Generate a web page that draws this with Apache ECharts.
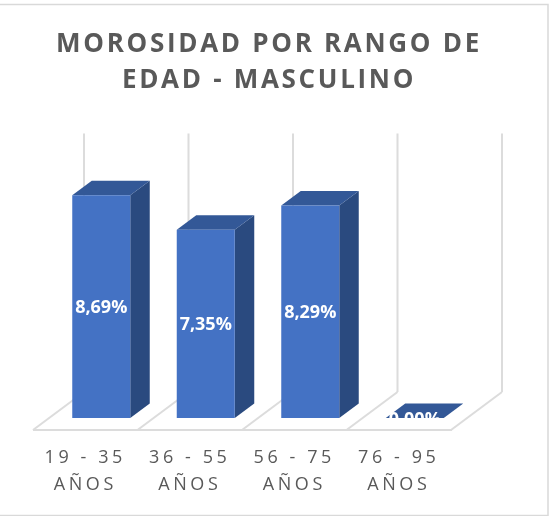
<!DOCTYPE html>
<html><head><meta charset="utf-8">
<script src="https://cdn.jsdelivr.net/npm/echarts@6/dist/echarts.min.js"></script>
<style>html,body{margin:0;padding:0;background:#fff}#c{width:557px;height:516px}</style>
</head><body><div id="c"></div>
<script>
// Tracked lettering as in the reference: spacing chosen by font at draw time
var origFill = CanvasRenderingContext2D.prototype.fillText;
CanvasRenderingContext2D.prototype.fillText = function (t, x, y, m) {
  var f = this.font || '';
  this.letterSpacing = /26px/.test(f) ? '2.7px' : (/18px/.test(f) && !/700|bold/.test(f)) ? '3.6px' : '0px';
  return m === undefined ? origFill.call(this, t, x, y) : origFill.call(this, t, x, y, m);
};

var categories = ['19 - 35\nAÑOS', '36 - 55\nAÑOS', '56 - 75\nAÑOS', '76 - 95\nAÑOS'];
var values = [8.69, 7.35, 8.29, 0];
var valueLabels = ['8,69%', '7,35%', '8,29%', '0,00%'];
var titleText = 'MOROSIDAD POR RANGO DE\nEDAD - MASCULINO';

var chart = echarts.init(document.getElementById('c'));
var DX = 19.5, DY = -14.5, HALF = 29, SHIFT = 16, LABEL_DY = 1.5;
var FLOOR_FRONT = 12, WALL_DX = 51, WALL_DY = -26, AXIS_MAX = 11.2, WALL_TOP = 11.1;

function renderBar(params, api) {
  var i = api.value(0), v = api.value(1);
  var c = api.coord([i, v]), b = api.coord([i, 0]);
  var l = c[0] + SHIFT - HALF, r = c[0] + SHIFT + HALF, t = c[1], y0 = b[1];
  return { type: 'group', children: [
    { type: 'polygon', shape: { points: [[r, y0], [r + DX, y0 + DY], [r + DX, t + DY], [r, t]] }, style: { fill: '#2a4a7f' } },
    { type: 'polygon', shape: { points: [[l, t], [r, t], [r + DX, t + DY], [l + DX, t + DY]] }, style: { fill: '#335897' } },
    { type: 'rect', shape: { x: l, y: t, width: r - l, height: y0 - t }, style: { fill: '#4472c4' } },
    { type: 'text', style: { x: (l + r) / 2, y: (t + y0) / 2 + LABEL_DY, text: valueLabels[i], fill: '#fff', align: 'center', verticalAlign: 'middle', font: '700 18px "Open Sans"' } }
  ]};
}

// One vertical wall line and floor diagonal per category boundary
function renderFrame(params, api) {
  var i = api.value(0);
  var size = api.size([1, 0])[0];
  var y0 = api.coord([0, 0])[1], yTop = api.coord([0, WALL_TOP])[1];
  var x = api.coord([i, 0])[0] - size / 2;
  var st = { stroke: '#dcdcdc', lineWidth: 2, fill: null };
  var fy = y0 + FLOOR_FRONT, bx = x + WALL_DX, by = y0 + WALL_DY;
  return { type: 'group', children: [
    { type: 'line', shape: { x1: x, y1: fy, x2: bx, y2: by }, style: st },
    { type: 'line', shape: { x1: bx, y1: by, x2: bx, y2: yTop }, style: st }
  ]};
}

chart.setOption({
  animation: false,
  backgroundColor: '#fff',
  title: { text: titleText, left: 264, top: 22, textAlign: 'center',
    textStyle: { color: '#595959', fontFamily: 'Open Sans', fontWeight: 700, fontSize: 26, lineHeight: 35.5 } },
  grid: { left: 33, right: 106, top: 131, bottom: 98 },
  xAxis: { type: 'category', data: categories,
    axisLine: { show: false }, axisTick: { show: false }, splitLine: { show: false },
    axisLabel: { color: '#595959', fontFamily: 'Open Sans', fontSize: 18, lineHeight: 27, margin: 26, interval: 0 } },
  yAxis: { type: 'value', min: 0, max: AXIS_MAX, show: false },
  series: [
    { type: 'custom', renderItem: renderFrame, silent: true, clip: false, z: 1,
      data: [[0, 0], [1, 0], [2, 0], [3, 0], [4, 0]], encode: { x: 0, y: 1 } },
    { type: 'line', silent: true, symbol: 'none', z: 1, data: [], markLine: { silent: true, symbol: 'none', label: { show: false },
        lineStyle: { color: '#dcdcdc', width: 2, type: 'solid' },
        data: [[{ x: 33, y: 430 }, { x: 452, y: 430 }]] } },
    { type: 'custom', renderItem: renderBar, clip: false, z: 3,
      data: values.map(function (v, i) { return [i, v]; }), encode: { x: 0, y: 1 } }
  ],
  graphic: [{ type: 'polyline', silent: true, z: -1, shape: { points: [[0, 4.5], [548, 4.5], [548, 515.5], [0, 515.5]] }, style: { fill: null, stroke: '#d9d9d9', lineWidth: 1.5 } }]
});
</script></body></html>
